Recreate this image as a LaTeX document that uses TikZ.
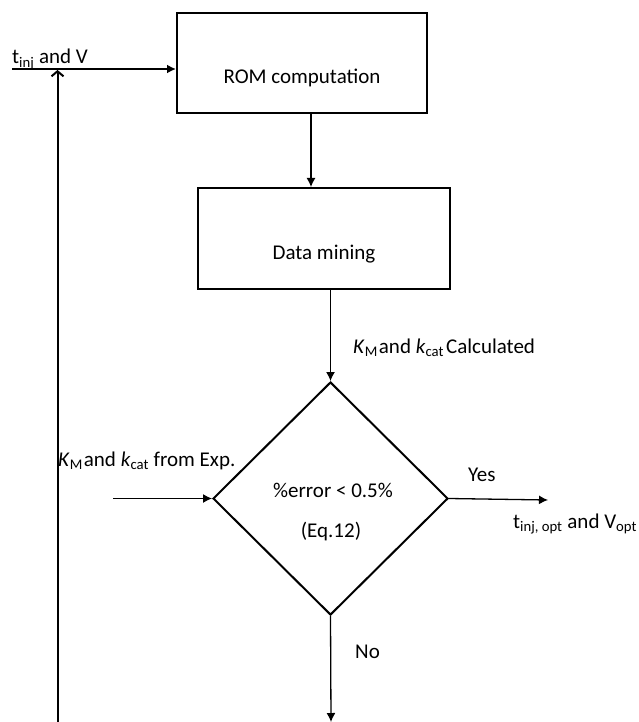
\documentclass[tikz,border=0pt]{standalone}
\usepackage{fontspec}
\setmainfont{Carlito}
\usetikzlibrary{arrows.meta,shapes.geometric}
\begin{document}
\begin{tikzpicture}[x=1pt,y=-1pt,
  font=\fontsize{21}{25}\selectfont,
  boxst/.style={draw,line width=2pt,inner sep=0pt},
  arr/.style={line width=1.3pt,-{Latex[length=9pt,width=9pt]}},
  thickarr/.style={line width=2pt,-{Latex[length=9pt,width=9pt]}},
  lbl/.style={inner sep=0pt,anchor=base west}]
\useasboundingbox (0,0) rectangle (638,722);
% boxes
\node[boxst,minimum width=250pt,minimum height=100pt] (rom) at (302,63) {};
\node[inner sep=0pt,anchor=base] (romtxt) at (302,84) {ROM computation};
\node[boxst,minimum width=252pt,minimum height=101pt] (dm) at (324,238.5) {};
\node[inner sep=0pt,anchor=base] (dmtxt) at (324,259) {Data mining};
\node[boxst,diamond,minimum width=235pt,minimum height=233pt] (dia) at (330.5,498.5) {};
\node[inner sep=0pt,anchor=base] (errtxt) at (333,497) {\%error < 0.5\%};
\node[inner sep=0pt,anchor=base] (eqtxt) at (331,537) {(Eq.12)};
% labels
\node[lbl] (tin) at (12,64) {t\textsubscript{inj} and V};
\node[lbl] (kcalc) at (353,353) {\textit{K}\textsubscript{M}\hspace{0.05em}and \textit{k}\textsubscript{cat}\hspace{0.1em}Calculated};
\node[lbl] (kexp) at (58,466) {\textit{K}\textsubscript{M}\hspace{0.05em}and \textit{k}\textsubscript{cat} from Exp.};
\node[lbl] (yes) at (468,481) {Yes};
\node[lbl] (topt) at (513,528) {t\textsubscript{inj, opt} and V\textsubscript{opt}};
\node[lbl] (no) at (355,658) {No};
% coordinates
\coordinate (xa) at (311,0);
\coordinate (instart) at (12,69);
\coordinate (fbstart) at (57.5,722);
\coordinate (fbend) at (57.5,70);
\coordinate (expstart) at (113,498.5);
\coordinate (yesend) at (548,500);
\coordinate (noend) at (331,722);
% connectors
\draw[thickarr] (instart) -- (rom.west |- instart);
\draw[line width=2pt,-{Straight Barb[length=5pt,width=12pt]}] (fbstart) -- (fbend);
\draw[arr] (rom.south -| xa) -- (dm.north -| xa);
\draw[arr] (dm.south -| dia.north) -- (dia.north);
\draw[arr] (expstart) -- (dia.west);
\draw[arr] (dia.east) -- (yesend);
\draw[arr] (dia.south) -- (noend);
\end{tikzpicture}
\end{document}
